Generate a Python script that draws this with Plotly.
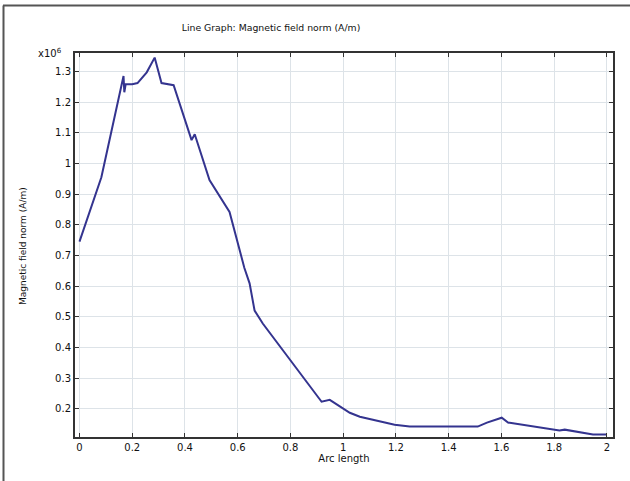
import plotly.graph_objects as go

arc_length = [0.0, 0.083, 0.167, 0.170, 0.175, 0.2, 0.22, 0.255, 0.285, 0.311, 0.357,
              0.425, 0.437, 0.493, 0.569, 0.596, 0.625, 0.645, 0.664, 0.695, 0.918, 0.949,
              1.025, 1.063, 1.195, 1.252, 1.51, 1.545, 1.601, 1.625, 1.82, 1.84,
              1.935, 1.947, 2.0]
field_norm = [0.745, 0.955, 1.285, 1.232, 1.258, 1.258, 1.262, 1.297, 1.345, 1.262, 1.255,
              1.076, 1.095, 0.946, 0.842, 0.75, 0.66, 0.609, 0.52, 0.478, 0.223, 0.229,
              0.187, 0.174, 0.148, 0.142, 0.142, 0.155, 0.171, 0.155, 0.129, 0.132,
              0.119, 0.116, 0.116]

x_ticks = [0, 0.2, 0.4, 0.6, 0.8, 1, 1.2, 1.4, 1.6, 1.8, 2]
y_ticks = [0.2, 0.3, 0.4, 0.5, 0.6, 0.7, 0.8, 0.9, 1.0, 1.1, 1.2, 1.3]

font = "DejaVu Sans"
txt = "#111111"

fig = go.Figure()
fig.add_trace(go.Scatter(x=arc_length, y=field_norm, mode="lines",
                         line=dict(color="#34348f", width=2), showlegend=False))

axis_common = dict(showline=True, linecolor="#333333", linewidth=2, mirror="ticks",
                   ticks="inside", ticklen=4, tickcolor="#333333",
                   showgrid=True, gridcolor="#dde3e8", gridwidth=1, zeroline=False,
                   tickfont=dict(family=font, size=10, color=txt))

fig.update_xaxes(range=[-0.017, 2.023], tickvals=x_ticks,
                 ticktext=[("%g" % v) for v in x_ticks],
                 title=dict(text="Arc length", font=dict(family=font, size=10, color=txt), standoff=2),
                 **axis_common)
fig.update_yaxes(range=[0.108, 1.36], tickvals=y_ticks,
                 ticktext=[("%g" % v) for v in y_ticks],
                 **axis_common)

fig.update_layout(
    width=630, height=481,
    margin=dict(l=75, r=17, t=53, b=44),
    paper_bgcolor="white", plot_bgcolor="white",
    title=dict(text="Line Graph: Magnetic field norm (A/m)", x=271/630, xanchor="center",
               y=1 - 28/481, yanchor="middle", font=dict(family=font, size=9.3, color=txt)),
    annotations=[
        dict(text="x10<sup>6</sup>", xref="paper", yref="paper",
             x=-0.02, y=1.0, xanchor="right", yanchor="middle", showarrow=False,
             font=dict(family=font, size=10, color=txt)),
        dict(text="Magnetic field norm (A/m)", xref="paper", yref="paper",
             x=(23-75)/538, y=(437-246)/384, xanchor="center", yanchor="middle",
             textangle=-90, showarrow=False, font=dict(family=font, size=9, color=txt)),
    ],
    shapes=[
        dict(type="line", xref="paper", yref="paper", x0=(3-75)/538, x1=(630-75)/538,
             y0=(437-5.5)/384, y1=(437-5.5)/384, line=dict(color="#555555", width=2)),
        dict(type="line", xref="paper", yref="paper", x0=(3.5-75)/538, x1=(3.5-75)/538,
             y0=(437-5.5)/384, y1=(437-481)/384, line=dict(color="#555555", width=2)),
    ],
)

fig.write_html("out.html")
